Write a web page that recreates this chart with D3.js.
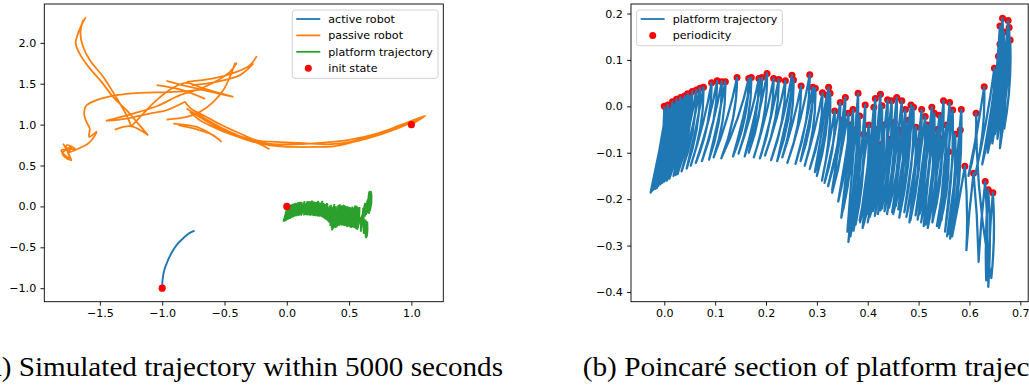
<!DOCTYPE html>
<html><head><meta charset="utf-8">
<script src="https://cdn.jsdelivr.net/npm/d3@7"></script>
<style>body{margin:0;background:#fff}svg{display:block}
.cap{font-family:"Liberation Serif","DejaVu Serif",serif;}
.sans{font-family:"DejaVu Sans",sans-serif;}
</style>
</head><body>
<svg id="c" width="1029" height="389"></svg>
<script>
// ---------------- data ----------------
const activeRobot = [[-1.000,-1.000],[-0.997,-0.900],[-0.985,-0.790],[-0.960,-0.680],[-0.925,-0.570],[-0.880,-0.465],[-0.825,-0.380],[-0.785,-0.330],[-0.740,-0.295]];

const passiveRobot = [
  [[1.000,1.000],[1.112,1.107],[0.911,0.993],[0.723,0.891],[0.509,0.817],[0.268,0.776],[0.054,0.760],[-0.161,0.768],[-0.322,0.829],[-0.456,0.911],[-0.589,1.013],[-0.697,1.115],[-0.790,1.225],[-0.817,1.279]],
  [[1.099,1.095],[0.884,0.952],[0.643,0.829],[0.536,0.788],[0.375,0.735],[0.241,0.727],[0.054,0.727],[-0.134,0.748],[-0.268,0.788],[-0.429,0.870],[-0.563,0.952],[-0.697,1.054],[-0.777,1.156]],
  [[1.045,1.054],[0.777,0.911],[0.509,0.788],[0.348,0.760],[0.107,0.776],[-0.080,0.788],[-0.241,0.809],[-0.375,0.891],[-0.536,1.005],[-0.670,1.115],[-0.750,1.176]],
  [[-0.804,1.197],[-0.589,0.993],[-0.375,0.850],[-0.214,0.760],[-0.139,0.699]],
  [[-1.613,2.312],[-1.648,2.218],[-1.675,2.116],[-1.694,1.994],[-1.656,1.850],[-1.581,1.688],[-1.487,1.523],[-1.394,1.339],[-1.286,1.176],[-1.193,1.013],[-1.113,0.870]],
  [[-1.635,2.279],[-1.656,2.116],[-1.635,1.952],[-1.581,1.789],[-1.474,1.585],[-1.380,1.360],[-1.286,1.115],[-1.246,0.972]],
  [[-1.380,0.940],[-1.246,0.980],[-1.112,0.870]],
  [[-1.246,0.980],[-1.152,1.136],[-1.045,1.299],[-0.911,1.454],[-0.804,1.511],[-0.670,1.442],[-0.429,1.340]],
  [[-1.452,1.046],[-1.233,1.136],[-1.045,1.225],[-0.857,1.360],[-0.670,1.454],[-0.456,1.646],[-0.402,1.757]],
  [[-1.045,1.483],[-0.857,1.430],[-0.656,1.315]],
  [[-0.965,1.536],[-0.804,1.471],[-0.670,1.422],[-0.429,1.340]],
  [[-0.804,1.524],[-0.589,1.565],[-0.402,1.646],[-0.295,1.728],[-0.241,1.838]],
  [[-0.764,1.483],[-0.563,1.524],[-0.375,1.605],[-0.268,1.748]],
  [[-0.415,1.757],[-0.456,1.585],[-0.509,1.422],[-0.589,1.279],[-0.697,1.156],[-0.804,1.095],[-0.965,1.062]],
  [[-1.452,1.046],[-1.286,1.074],[-1.099,1.136],[-0.965,1.176],[-0.817,1.279]],
  [[-0.871,0.993],[-0.697,0.931],[-0.589,0.870],[-0.523,0.788]],
  [[-0.911,1.013],[-0.723,0.972],[-0.616,0.891],[-0.536,0.809]],
  [[-1.626,1.115],[-1.613,1.225],[-1.527,1.299],[-1.367,1.360],[-1.179,1.389],[-0.965,1.397],[-0.804,1.409],[-0.665,1.430]],
  [[-1.626,1.115],[-1.608,1.033],[-1.581,0.952],[-1.586,0.850],[-1.527,0.911],[-1.567,0.809],[-1.602,0.760],[-1.661,0.715],[-1.715,0.678],[-1.755,0.654]],
  [[-1.795,0.768],[-1.728,0.564],[-1.809,0.686],[-1.702,0.707],[-1.768,0.748],[-1.742,0.572],[-1.801,0.645],[-1.728,0.727],[-1.755,0.654]]
];

const initStateX = [-1.0, 1.0, 0.0];
const initStateY = [-1.0, 1.0, 0.0];

// platform trajectory: periodicity points (upper turning points) and the lower turning point after each
const periodX = [
  0.000,0.004,0.007,0.012,0.016,0.020,0.024,0.028,0.032,0.036,
  0.040,0.046,0.050,0.055,0.063,0.070,0.077,0.093,0.104,0.113,
  0.120,0.143,0.166,0.171,0.186,0.192,0.202,0.215,0.225,0.238,
  0.251,0.254,0.269,0.286,0.292,0.297,0.311,0.320,0.323,0.326,
  0.335,0.346,0.350,0.356,0.362,0.366,0.371,0.378,0.381,0.384,
  0.392,0.395,0.402,0.412,0.412,0.415,0.418,0.425,0.425,0.428,
  0.432,0.439,0.444,0.447,0.452,0.457,0.461,0.467,0.470,0.474,
  0.480,0.485,0.490,0.495,0.500,0.506,0.513,0.517,0.523,0.526,
  0.529,0.531,0.537,0.541,0.546,0.549,0.555,0.559,0.561,0.567,
  0.572,0.578,0.582,0.584,
  0.591,0.608,0.631,0.637,0.646,
  0.613,0.629,0.649,0.657,0.660,0.660,0.668,0.665,0.672,0.676,0.678,0.680];
const periodY = [
  0.000,-0.008,0.003,-0.004,0.010,0.004,0.015,0.010,0.019,0.014,
  0.022,0.027,0.022,0.032,0.035,0.039,0.041,0.051,0.055,0.053,
  0.053,0.062,0.060,0.062,0.060,0.062,0.071,0.060,0.058,0.055,
  0.067,0.057,0.044,0.068,0.041,0.039,0.029,0.024,0.041,0.028,
  -0.010,0.008,-0.030,0.019,-0.015,-0.040,-0.007,-0.050,0.028,-0.021,
  -0.060,0.003,-0.040,-0.094,-0.002,0.017,-0.050,-0.083,0.026,0.001,
  -0.040,0.014,-0.071,0.012,-0.035,0.019,-0.051,0.012,-0.060,-0.007,
  -0.030,0.003,-0.002,-0.045,-0.075,-0.007,-0.022,-0.040,-0.055,-0.002,
  -0.065,-0.015,-0.050,-0.019,-0.070,0.012,-0.040,-0.098,0.008,-0.008,
  -0.060,-0.100,-0.051,-0.007,
  -0.129,-0.144,-0.162,-0.180,-0.186,
  -0.015,0.042,0.082,0.108,0.134,0.173,0.160,0.190,0.120,0.185,0.170,0.143];
const bottomX = [
  -0.027,-0.025,-0.022,-0.018,-0.015,-0.012,-0.008,-0.004,0.000,0.005,
  0.010,0.018,0.022,0.026,0.034,0.044,0.052,0.062,0.074,0.088,
  0.097,0.112,0.135,0.146,0.158,0.166,0.176,0.188,0.198,0.210,
  0.222,0.232,0.242,0.258,0.268,0.276,0.286,0.296,0.300,0.310,
  0.315,0.322,0.330,0.330,0.342,0.348,0.352,0.360,0.362,0.366,
  0.376,0.372,0.384,0.390,0.385,0.392,0.400,0.404,0.400,0.410,
  0.414,0.420,0.425,0.428,0.433,0.438,0.442,0.448,0.450,0.455,
  0.460,0.462,0.472,0.476,0.482,0.484,0.494,0.498,0.502,0.505,
  0.510,0.514,0.518,0.522,0.527,0.530,0.536,0.540,0.545,0.552,
  0.556,0.560,0.562,0.566,
  0.594,0.618,0.633,0.637,0.643,
  0.598,0.612,0.625,0.636,0.645,0.650,0.655,0.656,0.660,0.662,0.664,0.668];
const bottomY = [
  -0.186,-0.183,-0.180,-0.178,-0.176,-0.172,-0.168,-0.165,-0.162,-0.160,
  -0.156,-0.150,-0.148,-0.146,-0.140,-0.134,-0.128,-0.122,-0.118,-0.115,
  -0.110,-0.112,-0.108,-0.102,-0.108,-0.100,-0.110,-0.112,-0.106,-0.116,
  -0.118,-0.110,-0.122,-0.124,-0.118,-0.128,-0.135,-0.142,-0.150,-0.160,
  -0.165,-0.172,-0.180,-0.186,-0.205,-0.240,-0.222,-0.270,-0.292,-0.280,
  -0.255,-0.268,-0.246,-0.262,-0.250,-0.244,-0.250,-0.238,-0.232,-0.226,
  -0.236,-0.232,-0.224,-0.220,-0.226,-0.232,-0.218,-0.228,-0.232,-0.215,
  -0.222,-0.240,-0.228,-0.238,-0.250,-0.245,-0.235,-0.244,-0.232,-0.250,
  -0.258,-0.255,-0.262,-0.240,-0.250,-0.228,-0.258,-0.262,-0.245,-0.270,
  -0.280,-0.275,-0.285,-0.280,
  -0.310,-0.335,-0.375,-0.389,-0.370,
  -0.150,-0.145,-0.125,-0.100,-0.080,-0.060,-0.070,-0.040,-0.090,-0.025,-0.030,-0.050];

const ticksAX = [-1.5,-1.0,-0.5,0.0,0.5,1.0];
const ticksAY = [-1.0,-0.5,0.0,0.5,1.0,1.5,2.0];
const ticksBX = [0.0,0.1,0.2,0.3,0.4,0.5,0.6,0.7];
const ticksBY = [-0.4,-0.3,-0.2,-0.1,0.0,0.1,0.2];

const legendA = ["active robot","passive robot","platform trajectory","init state"];
const legendB = ["platform trajectory","periodicity"];
const captionA = "(a) Simulated trajectory within 5000 seconds";
const captionB = "(b) Poincaré section of platform trajectory";

// ---------------- drawing ----------------
const svg = d3.select("#c");
const FS = 11.1;
const C = {blue:"#1f77b4", orange:"#ff7f0e", green:"#2ca02c", red:"#ff0000"};
const fmt = d3.format(".1f");

const xA = d3.scaleLinear().domain([-1.946,1.256]).range([44.3,443.3]);
const yA = d3.scaleLinear().domain([-1.165,2.475]).range([301.7,4]);
const xB = d3.scaleLinear().domain([-0.0655,0.7155]).range([631,1028.2]);
const yB = d3.scaleLinear().domain([-0.421,0.2205]).range([301.7,4]);

const platform = periodX.flatMap((x,i)=>[[x,periodY[i]],[bottomX[i],bottomY[i]]]);

// hook-shaped strands: narrow rounded loop at each upper turning point, bent tail at the lower one
function hookPath(x,y,pts,s){
  const p = d3.path();
  p.moveTo(x(pts[0][0]), y(pts[0][1]));
  for(let k=1;k<pts.length;k++){
    const a=pts[k-1], b=pts[k];
    const down = a[1]>=b[1];
    const top = down?a:b, low = down?b:a;
    const cx = x(top[0]) + 0.2*(x(low[0])-x(top[0])) + (down ? s : -s);
    const cy = (y(a[1])+y(b[1]))/2;
    p.quadraticCurveTo(cx, cy, x(b[0]), y(b[1]));
  }
  return p.toString();
}

function axes(x,y,tx,ty){
  const [x0,x1]=x.range(), [y0,y1]=y.range();
  const gx = svg.append("g").attr("transform",`translate(0,${y0})`)
    .call(d3.axisBottom(x).tickValues(tx).tickSize(3.9).tickPadding(3.6).tickFormat(fmt));
  const gy = svg.append("g").attr("transform",`translate(${x0},0)`)
    .call(d3.axisLeft(y).tickValues(ty).tickSize(3.9).tickPadding(4.2).tickFormat(fmt));
  [gx,gy].forEach(g=>{
    g.attr("font-family",null).attr("font-size",null);
    g.select(".domain").remove();
    g.selectAll(".tick line").attr("stroke","#000").attr("stroke-width",0.9);
    g.selectAll("text").attr("class","sans").style("font-size",FS+"px").attr("fill","#000");
  });
  svg.append("rect").attr("x",x0).attr("y",y1).attr("width",x1-x0).attr("height",y0-y1)
    .attr("fill","none").attr("stroke","#000").attr("stroke-width",0.9);
}

function lineGen(x,y){ return d3.line().x(d=>x(d[0])).y(d=>y(d[1])).curve(d3.curveCatmullRom.alpha(0.5)); }

// ---- panel A ----
{
  const lg = lineGen(xA,yA);
  const g = svg.append("g");
  g.append("path").attr("d",lg(activeRobot)).attr("fill","none").attr("stroke",C.blue).attr("stroke-width",1.9);
  g.append("path").attr("d",passiveRobot.map(s=>lg(s)).join(" ")).attr("fill","none")
    .attr("stroke",C.orange).attr("stroke-width",1.8).attr("stroke-linejoin","round");
  g.append("path").attr("d",hookPath(xA,yA,platform,0.8)).attr("fill","none").attr("stroke",C.green).attr("stroke-width",1.9);
  g.selectAll("circle").data(initStateX).join("circle")
    .attr("cx",(d)=>xA(d)).attr("cy",(d,i)=>yA(initStateY[i])).attr("r",3.6).attr("fill",C.red);
  axes(xA,yA,ticksAX,ticksAY);
}

// ---- panel B ----
{
  const g = svg.append("g");
  g.selectAll("circle").data(periodX).join("circle")
    .attr("cx",d=>xB(d)).attr("cy",(d,i)=>yB(periodY[i])).attr("r",3.5).attr("fill",C.red);
  g.append("path").attr("d",hookPath(xB,yB,platform,3.2)).attr("fill","none").attr("stroke",C.blue)
    .attr("stroke-width",2.3).attr("stroke-linejoin","round");
  axes(xB,yB,ticksBX,ticksBY);
}

// ---- legends ----
function legend(x0,y0,w,h,items,styles){
  const g = svg.append("g");
  g.append("rect").attr("x",x0).attr("y",y0).attr("width",w).attr("height",h).attr("rx",2.5)
    .attr("fill","#fff").attr("fill-opacity",0.8).attr("stroke","#ccc").attr("stroke-width",0.9);
  items.forEach((t,i)=>{
    const cy = y0+9+i*16.4;
    const s = styles[i];
    if(s.type==="line") g.append("line").attr("x1",x0+4).attr("x2",x0+28).attr("y1",cy).attr("y2",cy)
      .attr("stroke",s.color).attr("stroke-width",1.8);
    else g.append("circle").attr("cx",x0+16).attr("cy",cy).attr("r",3.5).attr("fill",s.color);
    g.append("text").attr("class","sans").attr("x",x0+36).attr("y",cy).attr("dy","0.36em").text(t)
      .style("font-size",FS+"px").attr("fill","#000");
  });
}
legend(292.3,10,145.7,68.3,legendA,[{type:"line",color:C.blue},{type:"line",color:C.orange},{type:"line",color:C.green},{type:"dot",color:C.red}]);
legend(636.7,10,145.6,35.7,legendB,[{type:"line",color:C.blue},{type:"dot",color:C.red}]);

// ---- captions ----
svg.append("text").attr("class","cap").attr("x",-21).attr("y",376).text(captionA)
  .style("font-size","27px").attr("fill","#000")
  .attr("textLength",524).attr("lengthAdjust","spacingAndGlyphs");
svg.append("text").attr("class","cap").attr("x",582.7).attr("y",376).text(captionB)
  .style("font-size","27px").attr("fill","#000")
  .attr("textLength",494).attr("lengthAdjust","spacingAndGlyphs");
</script>
</body></html>
